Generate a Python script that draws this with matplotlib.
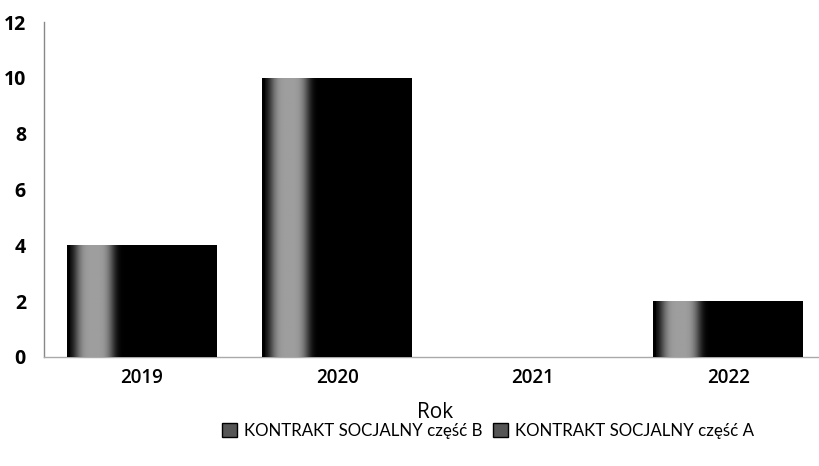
import numpy as np
import matplotlib
matplotlib.use("Agg")
import matplotlib.pyplot as plt
from matplotlib.patches import Patch

years = ["2019", "2020", "2021", "2022"]
part_b = [0, 0, 0, 0]
part_a = [4, 10, 0, 2]
series_labels = ["KONTRAKT SOCJALNY część B", "KONTRAKT SOCJALNY część A"]
y_ticks = [0, 2, 4, 6, 8, 10, 12]

plt.rcParams['font.family'] = ['Open Sans', 'DejaVu Sans']

fig = plt.figure(figsize=(8.2, 4.66), dpi=100)
ax = fig.add_axes([44/820, (466-357)/466, (826-44)/820, (357-22)/466])

x = np.arange(len(years))
width = 0.765
bars_b = ax.bar(x, part_b, width, color="black", zorder=2)
bars_a = ax.bar(x, part_a, width, bottom=part_b, color="black", zorder=2)

# scanned-looking gradient on left part of each bar
prof_x = np.linspace(0, 1, 200)
prof = 0.62 * np.exp(-((prof_x - 0.18) / 0.13) ** 4)
prof[prof_x < 0.02] = 0
grad = np.tile(prof, (50, 1))
for rect in bars_a:
    h = rect.get_height()
    if h <= 0:
        continue
    x0 = rect.get_x(); w = rect.get_width(); y0 = rect.get_y()
    im = ax.imshow(grad, cmap="gray", vmin=0, vmax=1, aspect="auto",
                   extent=[x0, x0 + w, y0, y0 + h], zorder=3, interpolation="bilinear")
    im.set_clip_path(rect)

ax.set_xlim(-0.5, 3.5)
ax.set_ylim(0, 12)
ax.set_yticks(y_ticks)
ax.set_xticks(x)
ax.set_xticklabels(years, fontsize=13.5, fontweight="semibold")
ax.tick_params(axis="y", length=0, pad=13, labelsize=14)
ax.tick_params(axis="x", length=0, pad=8)
for lab in ax.get_yticklabels():
    lab.set_fontweight("bold")

for s in ["top", "right"]:
    ax.spines[s].set_visible(False)
ax.spines["left"].set_color("#888888")
ax.spines["left"].set_linewidth(1.0)
ax.spines["bottom"].set_color("#aaaaaa")
ax.spines["bottom"].set_linestyle((0, (2, 1)))
ax.spines["bottom"].set_linewidth(1.0)

ax.set_xlabel("Rok", fontsize=15, labelpad=10)

handles = [Patch(facecolor="#555555", edgecolor="black"), Patch(facecolor="#555555", edgecolor="black")]
fig.legend(handles, series_labels, loc="center", bbox_to_anchor=(488/820, (466-431)/466),
           ncol=2, frameon=False, handlelength=0.9, handleheight=0.9,
           handletextpad=0.4, columnspacing=0.6, prop={"family": ["Lato", "DejaVu Sans"], "size": 12.2})

fig.savefig("out.png", dpi=100)
